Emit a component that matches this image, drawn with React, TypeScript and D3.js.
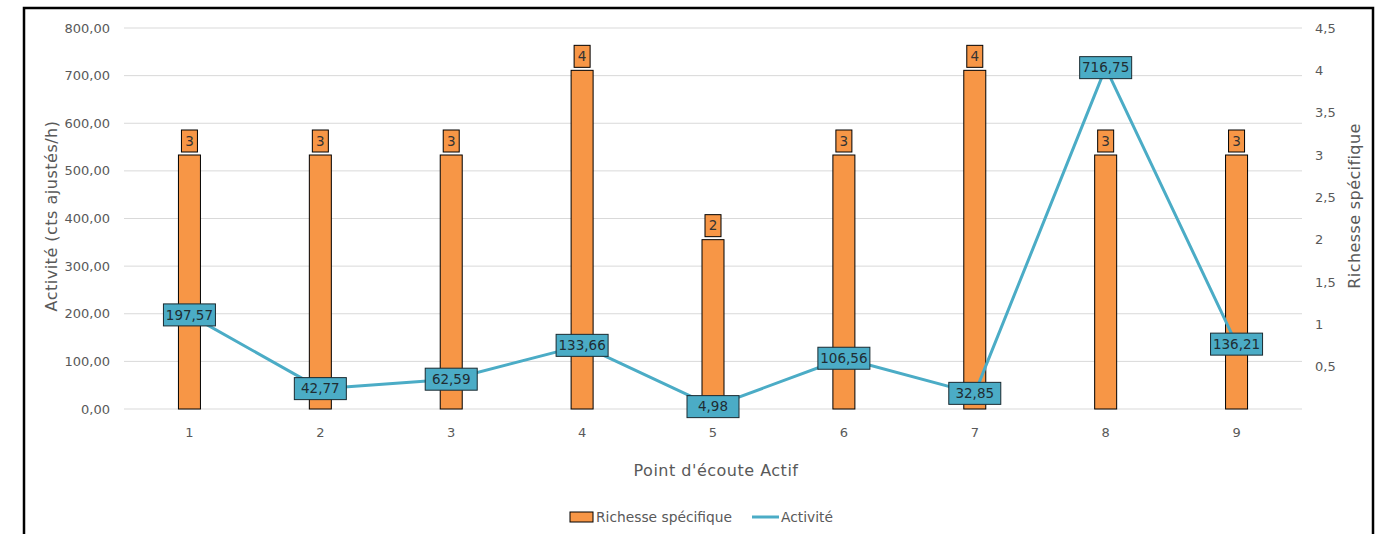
import React from "react";
import * as d3 from "d3";

const categories = ["1", "2", "3", "4", "5", "6", "7", "8", "9"];
const richesse = [3, 3, 3, 4, 2, 3, 4, 3, 3];
const activite = [197.57, 42.77, 62.59, 133.66, 4.98, 106.56, 32.85, 716.75, 136.21];
const leftTicks = [0, 100, 200, 300, 400, 500, 600, 700, 800];
const rightTicks = [0.5, 1, 1.5, 2, 2.5, 3, 3.5, 4, 4.5];

const W = 1383;
const H = 534;
const FONT = "'DejaVu Sans', 'Noto Sans', sans-serif";
const GRAY = "#595959";
const TEAL = "#4BACC6";
const ORANGE = "#F79646";

const fmt2 = (v: number) => v.toFixed(2).replace(".", ",");
const fmtR = (v: number) => String(v).replace(".", ",");

export default function App() {
  const x = d3.scaleBand<string>().domain(categories).range([124, 1302]);
  const yL = d3.scaleLinear().domain([0, 800]).range([409, 28]);
  const yR = d3.scaleLinear().domain([0, 4.5]).range([409, 28]);
  const cx = (c: string) => (x(c) as number) + x.bandwidth() / 2;
  const barW = 22;

  const line = d3
    .line<number>()
    .x((_, i) => cx(categories[i]))
    .y((d) => yL(d));

  return (
    <svg
      width={W}
      height={H}
      style={{ position: "absolute", left: 0, top: 0, background: "#fff" }}
      fontFamily={FONT}
    >
      <rect x={0} y={0} width={W} height={H} fill="#fff" />
      <rect x={24} y={8} width={1349} height={560} fill="none" stroke="#000" strokeWidth={2.5} />

      {leftTicks.map((t) => (
        <g key={"g" + t}>
          <line x1={124} x2={1302} y1={yL(t)} y2={yL(t)} stroke="#d9d9d9" strokeWidth={1} />
          <text x={110} y={yL(t)} dy="0.35em" textAnchor="end" fontSize={13} fill={GRAY}>
            {fmt2(t)}
          </text>
        </g>
      ))}
      {rightTicks.map((t) => (
        <text key={"r" + t} x={1315} y={yR(t)} dy="0.35em" textAnchor="start" fontSize={13} fill={GRAY}>
          {fmtR(t)}
        </text>
      ))}

      {categories.map((c) => (
        <text key={"x" + c} x={cx(c)} y={437} textAnchor="middle" fontSize={13} fill={GRAY}>
          {c}
        </text>
      ))}

      {categories.map((c, i) => (
        <g key={"b" + c}>
          <rect
            x={cx(c) - barW / 2}
            y={yR(richesse[i])}
            width={barW}
            height={yR(0) - yR(richesse[i])}
            fill={ORANGE}
            stroke="#000"
            strokeWidth={1}
          />
          <rect
            x={cx(c) - 8}
            y={yR(richesse[i]) - 25}
            width={16}
            height={22}
            fill={ORANGE}
            stroke="#000"
            strokeWidth={1}
          />
          <text x={cx(c)} y={yR(richesse[i]) - 14} dy="0.35em" textAnchor="middle" fontSize={13.5} fill="#333">
            {richesse[i]}
          </text>
        </g>
      ))}

      <path d={line(activite) as string} fill="none" stroke={TEAL} strokeWidth={3} strokeLinejoin="round" />

      {categories.map((c, i) => (
        <g key={"l" + c}>
          <rect
            x={cx(c) - 26}
            y={yL(activite[i]) - 11}
            width={52}
            height={22}
            fill={TEAL}
            stroke="#1a2a30"
            strokeWidth={1}
          />
          <text x={cx(c)} y={yL(activite[i])} dy="0.35em" textAnchor="middle" fontSize={13.5} fill="#1f2d33">
            {fmt2(activite[i])}
          </text>
        </g>
      ))}

      <text transform={`translate(57,216) rotate(-90)`} textAnchor="middle" fontSize={16} letterSpacing={0.5} fill={GRAY}>
        Activité (cts ajustés/h)
      </text>
      <text transform={`translate(1360,206) rotate(-90)`} textAnchor="middle" fontSize={16} letterSpacing={0.4} fill={GRAY}>
        Richesse spécifique
      </text>
      <text x={716} y={476} textAnchor="middle" fontSize={16} letterSpacing={0.5} fill={GRAY}>
        Point d'écoute Actif
      </text>

      <rect x={570} y={512} width={23} height={10} fill={ORANGE} stroke="#000" strokeWidth={1} />
      <text x={596} y={517} dy="0.35em" fontSize={13.8} fill={GRAY}>
        Richesse spécifique
      </text>
      <line x1={752} x2={779} y1={517} y2={517} stroke={TEAL} strokeWidth={3} />
      <text x={781} y={517} dy="0.35em" fontSize={13.8} fill={GRAY}>
        Activité
      </text>
    </svg>
  );
}
